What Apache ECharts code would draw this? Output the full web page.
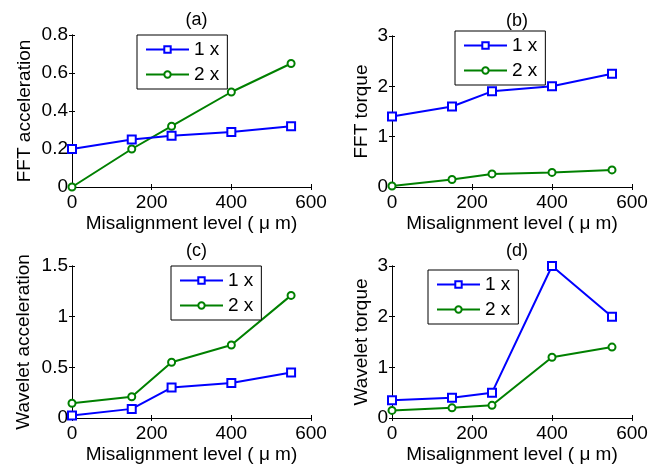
<!DOCTYPE html>
<html>
<head>
<meta charset="utf-8">
<script src="https://cdn.jsdelivr.net/npm/echarts@6/dist/echarts.min.js"></script>
<style>
  html, body { margin: 0; padding: 0; background: #fff; }
  #chart { width: 658px; height: 469px; }
</style>
</head>
<body>
<div id="chart"></div>
<script>
// misalignment levels (um)
const levels = [0, 150, 250, 400, 550];

const fftAcc1x = [0.2, 0.25, 0.27, 0.29, 0.32];
const fftAcc2x = [0, 0.2, 0.32, 0.5, 0.65];
const fftTorque1x = [1.4, 1.6, 1.9, 2.0, 2.25];
const fftTorque2x = [0.02, 0.15, 0.26, 0.29, 0.34];
const wavAcc1x = [0.025, 0.09, 0.3, 0.345, 0.45];
const wavAcc2x = [0.145, 0.21, 0.55, 0.72, 1.21];
const wavTorque1x = [0.35, 0.4, 0.5, 3.0, 2.0];
const wavTorque2x = [0.15, 0.2, 0.25, 1.2, 1.4];

const panelTitles = ['(a)', '(b)', '(c)', '(d)'];
const yNames = ['FFT acceleration', 'FFT torque', 'Wavelet acceleration', 'Wavelet torque'];
const yMax = [0.8, 3, 1.5, 3];
const yStep = [0.2, 1, 0.5, 1];
const xName = 'Misalignment level ( \u03bc m)';
const seriesNames = ['1 x', '2 x'];

const panelData = [
    [fftAcc1x, fftAcc2x],
    [fftTorque1x, fftTorque2x],
    [wavAcc1x, wavAcc2x],
    [wavTorque1x, wavTorque2x],
];

// layout
const grids = [
    {left: 72, top: 35, width: 239, height: 152},
    {left: 392, top: 36, width: 240, height: 151},
    {left: 72, top: 266, width: 239, height: 152},
    {left: 392, top: 266, width: 240, height: 152},
];
const yNameGap = [38, 21, 39, 21];
const legendPos = [
    {left: 137, top: 35},
    {left: 455, top: 31},
    {left: 171, top: 266},
    {left: 428, top: 270},
];

const font = '"Liberation Sans", Arial, sans-serif';
const blue = '#0000ff';
const green = '#008000';

const chart = echarts.init(document.getElementById('chart'), null, {renderer: 'canvas'});

const xAxes = [];
const yAxes = [];
const series = [];
const titles = [];
const legends = [];

grids.forEach((g, i) => {
    const lineStyle = {color: '#000', width: 1};
    const tick = {show: true, inside: true, length: 3, lineStyle: lineStyle};
    xAxes.push({
        type: 'value', gridIndex: i, min: 0, max: 600, interval: 200,
        name: xName, nameLocation: 'middle', nameGap: 27,
        nameTextStyle: {color: '#000', fontSize: 19, fontFamily: font},
        axisLine: {show: true, lineStyle: lineStyle},
        axisTick: tick,
        axisLabel: {color: '#000', fontSize: 19, fontFamily: font, margin: 6},
        splitLine: {show: false},
    });
    xAxes.push({
        type: 'value', gridIndex: i, position: 'top', min: 0, max: 600, interval: 200,
        axisLine: {show: true, lineStyle: lineStyle},
        axisTick: tick, axisLabel: {show: false}, splitLine: {show: false},
    });
    yAxes.push({
        type: 'value', gridIndex: i, min: 0, max: yMax[i], interval: yStep[i],
        name: yNames[i], nameLocation: 'middle', nameGap: yNameGap[i],
        nameTextStyle: {color: '#000', fontSize: 19, fontFamily: font},
        axisLine: {show: true, lineStyle: lineStyle},
        axisTick: tick,
        axisLabel: {color: '#000', fontSize: 19, fontFamily: font, margin: 4},
        splitLine: {show: false},
    });
    yAxes.push({
        type: 'value', gridIndex: i, position: 'right', min: 0, max: yMax[i], interval: yStep[i],
        axisLine: {show: true, lineStyle: lineStyle},
        axisTick: tick, axisLabel: {show: false}, splitLine: {show: false},
    });

    titles.push({
        text: panelTitles[i],
        left: g.left + g.width / 2, top: g.top - 29, textAlign: 'center',
        textStyle: {color: '#000', fontSize: 18, fontWeight: 'normal', fontFamily: font},
    });

    panelData[i].forEach((vals, k) => {
        const color = k === 0 ? blue : green;
        series.push({
            name: seriesNames[k],
            type: 'line',
            xAxisIndex: 2 * i,
            yAxisIndex: 2 * i,
            data: levels.map((x, j) => [x, vals[j]]),
            symbol: k === 0 ? 'rect' : 'circle',
            symbolSize: k === 0 ? 8 : 7,
            showAllSymbol: true,
            itemStyle: {color: '#fff', borderColor: color, borderWidth: 2},
            lineStyle: {color: color, width: 2},
            z: k === 0 ? 3 : 2,
        });
    });

    legends.push({
        left: legendPos[i].left, top: legendPos[i].top,
        orient: 'vertical',
        data: seriesNames,
        selectedMode: false,
        backgroundColor: '#fff',
        borderColor: '#000',
        borderWidth: 1,
        padding: [5, 8, 5, 8],
        itemGap: 6,
        itemWidth: 43,
        itemHeight: 8,
        textStyle: {color: '#000', fontSize: 19, fontFamily: font},
        z: 10,
    });
});

chart.setOption({
    animation: false,
    backgroundColor: '#fff',
    title: titles,
    grid: grids,
    xAxis: xAxes,
    yAxis: yAxes,
    legend: legends,
    series: series,
});
</script>
</body>
</html>
